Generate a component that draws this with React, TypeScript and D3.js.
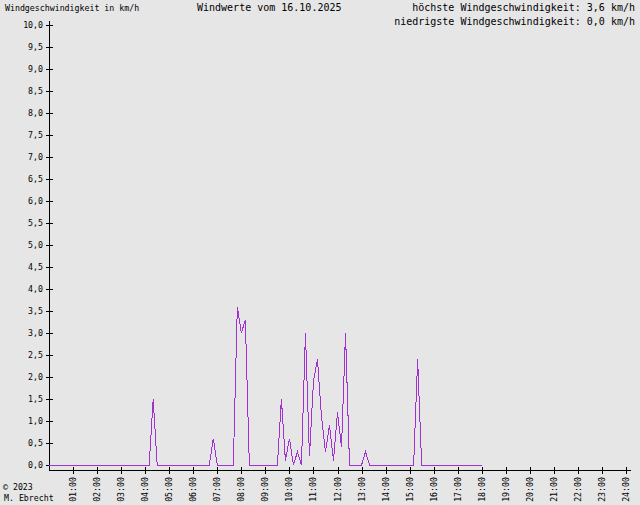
import React from "react";
import * as d3 from "d3";

// Wind speed in km/h, sampled every 10 minutes from 00:00 to 18:00
const windValues: number[] = [
  0, 0, 0, 0, 0, 0, // 00:00 - 00:50
  0, 0, 0, 0, 0, 0, // 01:00
  0, 0, 0, 0, 0, 0, // 02:00
  0, 0, 0, 0, 0, 0, // 03:00
  0, 0, 1.5, 0, 0, 0, // 04:00
  0, 0, 0, 0, 0, 0, // 05:00
  0, 0, 0, 0, 0, 0.6, // 06:00
  0, 0, 0, 0, 0, 3.6, // 07:00
  3.0, 3.3, 0, 0, 0, 0, // 08:00
  0, 0, 0, 0, 1.5, 0.1, // 09:00
  0.6, 0, 0.3, 0, 3.0, 0.2, // 10:00
  1.9, 2.4, 1.1, 0.3, 0.9, 0.1, // 11:00
  1.2, 0.4, 3.0, 0, 0, 0, // 12:00
  0, 0.3, 0, 0, 0, 0, // 13:00
  0, 0, 0, 0, 0, 0, // 14:00
  0, 0, 2.4, 0, 0, 0, // 15:00
  0, 0, 0, 0, 0, 0, // 16:00
  0, 0, 0, 0, 0, 0, // 17:00
  0, // 18:00
];
const sampleStepMinutes = 10;

const hourLabels: string[] = [
  "01:00", "02:00", "03:00", "04:00", "05:00", "06:00", "07:00", "08:00",
  "09:00", "10:00", "11:00", "12:00", "13:00", "14:00", "15:00", "16:00",
  "17:00", "18:00", "19:00", "20:00", "21:00", "22:00", "23:00", "24:00",
];
const yTickValues: number[] = [
  0, 0.5, 1, 1.5, 2, 2.5, 3, 3.5, 4, 4.5, 5, 5.5, 6, 6.5, 7, 7.5, 8, 8.5, 9, 9.5, 10,
];

const titleText = "Windwerte vom 16.10.2025";
const unitText = "Windgeschwindigkeit in km/h";
const maxText = "höchste Windgeschwindigkeit: 3,6 km/h";
const minText = "niedrigste Windgeschwindigkeit: 0,0 km/h";
const copyText = "© 2023";
const authorText = "M. Ebrecht";

const W = 640;
const H = 505;
const FONT = "'DejaVu Sans Mono', 'Liberation Mono', monospace";
const LINE_COLOR = "#a032d2";

export default function App() {
  const x = d3.scaleLinear().domain([0, 24]).range([49, 626]);
  const y = d3.scaleLinear().domain([0, 10]).range([465, 25]);
  const axisY = 470;

  const points = windValues.map((v, i) => [(i * sampleStepMinutes) / 60, v] as [number, number]);
  const line = d3
    .line<[number, number]>()
    .x((d) => x(d[0]))
    .y((d) => y(d[1]));

  const fmt = (v: number) => d3.format(".1f")(v).replace(".", ",");

  return (
    <svg
      width={W}
      height={H}
      style={{ position: "absolute", left: 0, top: 0, background: "#e6e6e6" }}
      fontFamily={FONT}
    >
      <rect x={0} y={0} width={W} height={H} fill="#e6e6e6" />

      {/* header texts */}
      <text x={5} y={11} fontSize={8.25} fill="#000">{unitText}</text>
      <text x={197} y={11} fontSize={10} fill="#000">{titleText}</text>
      <text x={635} y={11} fontSize={10} fill="#000" textAnchor="end">{maxText}</text>
      <text x={635} y={25} fontSize={10} fill="#000" textAnchor="end">{minText}</text>

      {/* y axis */}
      <line x1={49.5} y1={21} x2={49.5} y2={axisY + 0.5} stroke="#000" strokeWidth={1} shapeRendering="crispEdges" />
      {yTickValues.map((v) => (
        <g key={"yt" + v}>
          <line x1={46} x2={53} y1={Math.round(y(v)) + 0.5} y2={Math.round(y(v)) + 0.5} stroke="#000" shapeRendering="crispEdges" />
          <text x={43} y={y(v)} dy="0.35em" fontSize={8.25} textAnchor="end" fill="#000">
            {fmt(v)}
          </text>
        </g>
      ))}

      {/* x axis */}
      <line x1={49} y1={axisY + 0.5} x2={631} y2={axisY + 0.5} stroke="#000" shapeRendering="crispEdges" />
      {hourLabels.map((lab, i) => {
        const tx = Math.round(x(i + 1)) + 0.5;
        return (
          <g key={"xt" + lab}>
            <line x1={tx} x2={tx} y1={467} y2={474} stroke="#000" shapeRendering="crispEdges" />
            <text
              transform={`translate(${tx},477) rotate(-90)`}
              dy="0.35em"
              fontSize={8.25}
              textAnchor="end"
              fill="#000"
            >
              {lab}
            </text>
          </g>
        );
      })}

      {/* data line */}
      <path
        d={line(points) || ""}
        fill="none"
        stroke={LINE_COLOR}
        strokeWidth={1}
        shapeRendering="crispEdges"
      />

      {/* footer */}
      <text x={3} y={490} fontSize={8.25} fill="#000">{copyText}</text>
      <text x={4} y={501} fontSize={8.25} fill="#000">{authorText}</text>
    </svg>
  );
}
